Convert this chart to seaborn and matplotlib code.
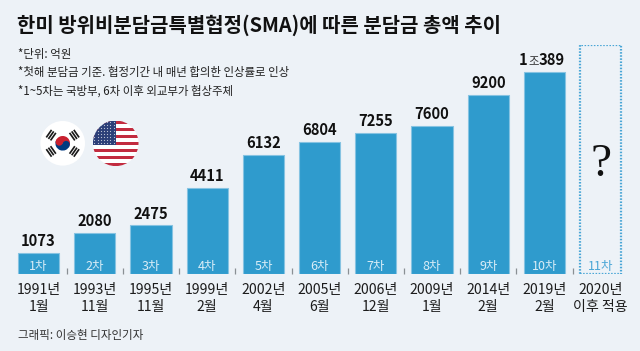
import numpy as np
import pandas as pd
import seaborn as sns
import matplotlib.pyplot as plt
from matplotlib.patches import Circle, Wedge, Rectangle
from matplotlib.transforms import Affine2D

# data
rounds = ['1차', '2차', '3차', '4차', '5차', '6차', '7차', '8차', '9차', '10차', '11차']
values = [1073, 2080, 2475, 4411, 6132, 6804, 7255, 7600, 9200, 10389, 11780]  # 11차 = empty frame height
value_labels = ['1073', '2080', '2475', '4411', '6132', '6804', '7255', '7600', '9200', '', '']
dates = ['1991년\n1월', '1993년\n11월', '1995년\n11월', '1999년\n2월', '2002년\n4월', '2005년\n6월',
         '2006년\n12월', '2009년\n1월', '2014년\n2월', '2019년\n2월', '2020년\n이후 적용']
title = '한미 방위비분담금특별협정(SMA)에 따른 분담금 총액 추이'
notes = ['*단위: 억원', '*첫해 분담금 기준. 협정기간 내 매년 합의한 인상률로 인상',
         '*1~5차는 국방부, 6차 이후 외교부가 협상주체']
credit = '그래픽: 이승현 디자인기자'

W, H = 640, 351
bg = '#edf2f7'
blue = '#2f9bcd'
edge = '#86c3e2'
ink = '#1c1c1c'

sns.set_theme(style='white')
plt.rcParams['font.family'] = ['Noto Sans CJK KR', 'DejaVu Sans']

fig = plt.figure(figsize=(6.4, 3.51), dpi=100, facecolor=bg)
# axes placed so one category = 56.2 px and baseline sits at y=273
ax = fig.add_axes([10.5 / W, 1 - 273.5 / H, 618.2 / W, 228.5 / H], facecolor='none')

df = pd.DataFrame({'round': rounds, 'value': values})
sns.barplot(data=df, x='round', y='value', color=blue, saturation=1, width=0.73,
            edgecolor=edge, linewidth=0.8, ax=ax)
ax.set_ylim(0, 11780)
ax.set_xlim(-0.5, 10.5)
ax.set(xlabel='', ylabel='')
sns.despine(ax=ax, left=True, bottom=True, top=True, right=True)
ax.set_yticks([])

# last bar is just a dotted frame
last = ax.patches[-1]
last.set_facecolor('none')
last.set_edgecolor('#4aa6d6')
last.set_linewidth(1.6)
last.set_linestyle((0, (0.7, 0.7)))

# date labels + little separators between the bars
ax.set_xticks(range(len(dates)))
ax.set_xticklabels(dates, fontsize=10.1, color=ink, linespacing=1.32)
ax.tick_params(axis='x', which='major', length=0, pad=6.5)
ax.set_xticks(np.arange(0.5, 10), minor=True)
ax.tick_params(axis='x', which='minor', direction='in', length=4.3, width=0.9,
               color='#8a9094', bottom=True)

for i, r in enumerate(rounds):
    ax.annotate(r, (i, 0), xytext=(0, 2.8), textcoords='offset points', ha='center', va='baseline',
                fontsize=9, color='#d9edf7' if i < 10 else '#4aa6d6')
for i, lab in enumerate(value_labels):
    if lab:
        ax.annotate(lab, (i, values[i]), xytext=(0, 5), textcoords='offset points', ha='center',
                    va='baseline', fontsize=10.6, fontweight='bold', color='#111111')

# 1조389 has a smaller, lighter middle character
ax.annotate('1', (9, values[9]), xytext=(-12, 5), textcoords='offset points', ha='right',
            va='baseline', fontsize=10.6, fontweight='bold', color='#111111')
ax.annotate('조', (9, values[9]), xytext=(-7.9, 5), textcoords='offset points', ha='center',
            va='baseline', fontsize=8.2, color='#333333')
ax.annotate('389', (9, values[9]), xytext=(-4, 5), textcoords='offset points', ha='left',
            va='baseline', fontsize=10.6, fontweight='bold', color='#111111')
ax.annotate('?', (10, 0), xytext=(0, 70.5), textcoords='offset points', ha='center', va='baseline',
            fontsize=34, family='Liberation Serif', color='#111111')

# text outside the plot, in pixel positions
def put(x, y, s, **kw):
    fig.text(x / W, 1 - y / H, s, va='baseline', ha=kw.pop('ha', 'left'), **kw)

put(17, 32, title, fontsize=14.35, fontweight='bold', color='#111111')
put(18, 58, notes[0], fontsize=8.25, color='#222222')
put(18, 76, notes[1], fontsize=8.25, color='#222222')
put(18, 95, notes[2], fontsize=8.25, color='#222222')
put(18, 339, credit, fontsize=8.3, color='#333333')

# flags on a pixel overlay
fl = fig.add_axes([0, 0, 1, 1], facecolor='none')
fl.set_xlim(0, W)
fl.set_ylim(H, 0)
fl.axis('off')

kx, ky, kr = 62.7, 143.3, 22.3
fl.add_patch(Circle((kx, ky), kr, fc='white', ec='none'))
fl.add_patch(Wedge((kx, ky), 7.3, 20, 200, fc='#003a80', ec='none'))
fl.add_patch(Wedge((kx, ky), 7.3, 200, 380, fc='#c8202f', ec='none'))
a = np.deg2rad(20)
dx, dy = 3.65 * np.cos(a), 3.65 * np.sin(a)
fl.add_patch(Circle((kx + dx, ky + dy), 3.65, fc='#003a80', ec='none'))
fl.add_patch(Circle((kx - dx, ky - dy), 3.65, fc='#c8202f', ec='none'))
for ang in (35, 145, 215, 325):
    t = np.deg2rad(ang)
    cx, cy = kx + 14.2 * np.cos(t), ky - 14.2 * np.sin(t)
    rot = -ang + 90
    for off in (-2.6, 0, 2.6):
        tr = Affine2D().rotate_deg_around(cx, cy, rot) + fl.transData
        fl.add_patch(Rectangle((cx - 4.6, cy + off - 0.85), 9.2, 1.7, fc='#1a1a1a', ec='none', transform=tr))

ux, uy, ur = 115.7, 143.3, 22.8
clip = Circle((ux, uy), ur, transform=fl.transData)
sh = 2 * ur / 13
for s in range(13):
    p = fl.add_patch(Rectangle((ux - ur, uy - ur + s * sh), 2 * ur, sh,
                               fc='#c22b3f' if s % 2 == 0 else 'white', ec='none'))
    p.set_clip_path(clip)
p = fl.add_patch(Rectangle((ux - ur, uy - ur), ur + 0.5, 7 * sh, fc='#2c3f78', ec='none'))
p.set_clip_path(clip)
sx, sy = np.meshgrid(np.arange(ux - ur + 1.5, ux, 3.2), np.arange(uy - ur + 1.5, uy - ur + 7 * sh, 3))
st = fl.scatter(sx.ravel(), sy.ravel(), s=1.5, c='white', marker='*', linewidths=0)
st.set_clip_path(clip)

fig.savefig('out.png', dpi=100, facecolor=bg)
